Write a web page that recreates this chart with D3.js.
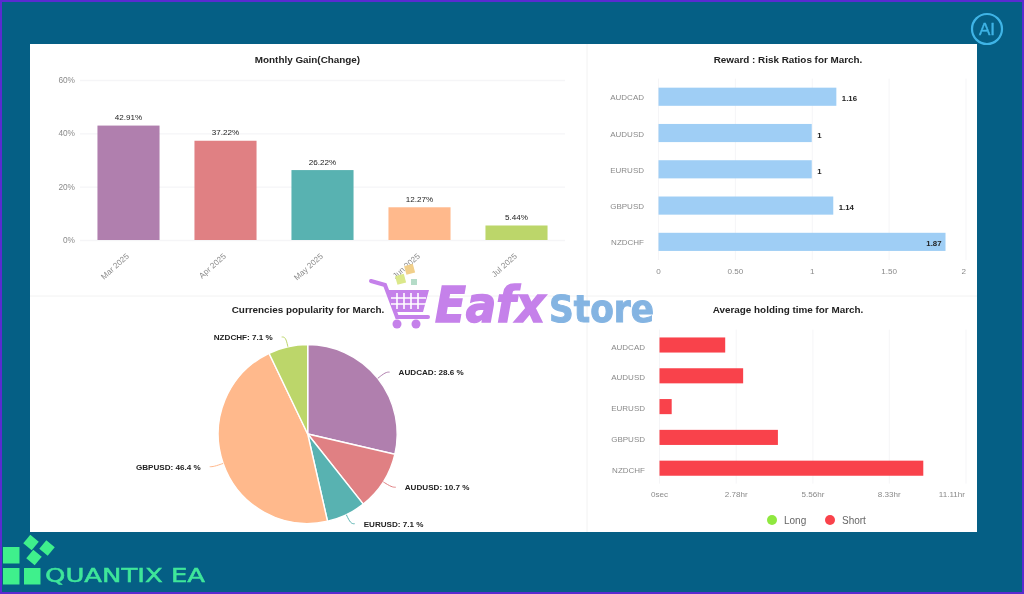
<!DOCTYPE html>
<html><head><meta charset="utf-8">
<script src="https://cdn.jsdelivr.net/npm/d3@7"></script>
<style>
html,body{margin:0;padding:0;background:#055f85;overflow:hidden}
svg{display:block;filter:blur(0.35px)}
text{font-family:"Liberation Sans",Arial,sans-serif}
</style></head><body><svg id="c" width="1024" height="594"></svg>
<script>
const months = ["Mar 2025","Apr 2025","May 2025","Jun 2025","Jul 2025"];
const gains = [42.91,37.22,26.22,12.27,5.44];
const gainTicks = [0,20,40,60];
const paletteColors = ["#b07fae","#e08083","#58b2b1","#ffb98c","#bcd66a"];
const pairs = ["AUDCAD","AUDUSD","EURUSD","GBPUSD","NZDCHF"];
const ratios = [1.16,1,1,1.14,1.87];
const ratioTicks = [0,0.5,1,1.5,2];
const ratioTickLabels = ["0","0.50","1","1.50","2"];
const popularity = [28.6,10.7,7.1,46.4,7.1];
const holdShortHours = [2.4,3.05,0.46,4.31,9.58];
const holdTicks = [0,2.78,5.56,8.33,11.11];
const holdTickLabels = ["0sec","2.78hr","5.56hr","8.33hr","11.11hr"];
const legendNames = ["Long","Short"];
const legendColors = ["#8fe83f","#f9424b"];

const svg = d3.select("#c");
const GRID="#f5f5f7", TICK="#8a8a8a", DARK="#222222";

// page frame
svg.append("rect").attr("width",1024).attr("height",594).attr("fill","#055f85");
svg.append("rect").attr("x",1).attr("y",1).attr("width",1022).attr("height",592).attr("fill","none").attr("stroke","#5a2bd0").attr("stroke-width",2);
svg.append("rect").attr("x",30).attr("y",44).attr("width",947).attr("height",488).attr("fill","#fff");
svg.append("line").attr("x1",587).attr("x2",587).attr("y1",44).attr("y2",532).attr("stroke","#f2f2f2");
svg.append("line").attr("x1",30).attr("x2",977).attr("y1",296).attr("y2",296).attr("stroke","#f2f2f2");

function title(t,x,y){svg.append("text").attr("x",x).attr("y",y).attr("text-anchor","middle")
  .attr("font-size",9.9).attr("font-weight","bold").attr("fill",DARK).text(t);}
title("Monthly Gain(Change)",307.5,63);
title("Reward : Risk Ratios for March.",788,63);
title("Currencies popularity for March.",308,313);
title("Average holding time for March.",788,313);

function styleAxis(g,size){
  g.select(".domain").remove();
  g.selectAll(".tick text").attr("font-size",size).attr("fill",TICK).style("font-family",'"Liberation Sans",Arial,sans-serif');
}

// Monthly gain
{
  const x=d3.scaleBand().domain(months).range([80,565]).paddingInner(.36).paddingOuter(.18);
  const y=d3.scaleLinear().domain([0,60]).range([240,80]);
  const ax=svg.append("g").attr("transform","translate(80,0)")
    .call(d3.axisLeft(y).tickValues(gainTicks).tickFormat(d=>d+"%").tickSize(-485).tickPadding(5));
  styleAxis(ax,8.3); ax.selectAll(".tick line").attr("stroke",GRID).attr("stroke-width",1.3);
  const bx=svg.append("g").attr("transform","translate(0,247)")
    .call(d3.axisBottom(x).tickSize(0).tickPadding(0));
  styleAxis(bx,8.1);
  bx.selectAll(".tick text").attr("text-anchor","end").attr("dy",0).attr("y",0)
    .attr("transform","translate(1,10) rotate(-42)");
  svg.selectAll(".gbar").data(gains).join("rect").attr("x",(d,i)=>x(months[i])).attr("y",d=>y(d))
    .attr("width",x.bandwidth()).attr("height",d=>y(0)-y(d)).attr("fill",(d,i)=>paletteColors[i]);
  svg.selectAll(".glab").data(gains).join("text").attr("x",(d,i)=>x(months[i])+x.bandwidth()/2).attr("y",d=>y(d)-5.5)
    .attr("text-anchor","middle").attr("font-size",8.1).attr("fill",DARK).text(d=>d+"%");
}

function hChart(cfg){
  const x=d3.scaleLinear().domain(cfg.domain).range([cfg.x0,cfg.x1]);
  const y=d3.scaleBand().domain(pairs).range(cfg.yr).paddingInner(cfg.pad).paddingOuter(cfg.pad/2);
  const ax=svg.append("g").attr("transform",`translate(0,${cfg.yr[1]})`)
    .call(d3.axisBottom(x).tickValues(cfg.ticks).tickFormat((d,i)=>cfg.labels[i]).tickSize(-(cfg.yr[1]-cfg.yr[0])).tickPadding(8));
  styleAxis(ax,8.1); ax.selectAll(".tick line").attr("stroke",GRID);
  ax.selectAll(".tick:last-of-type text").attr("text-anchor","end").attr("dx",cfg.lastDx);
  const ay=svg.append("g").attr("transform",`translate(${cfg.x0-6},0)`)
    .call(d3.axisLeft(y).tickSize(0).tickPadding(8));
  styleAxis(ay,8);
  ay.selectAll(".tick text").attr("y",cfg.labelDy);
  svg.selectAll("."+cfg.cls).data(cfg.values).join("rect").attr("class",cfg.cls)
    .attr("x",x(0)+.5).attr("y",(d,i)=>y(pairs[i])).attr("width",d=>x(d)-x(0)-.5)
    .attr("height",y.bandwidth()).attr("fill",cfg.color);
  return {x,y};
}

// Reward:risk
{
  const {x,y}=hChart({cls:"rr",values:ratios,domain:[0,2],x0:658,x1:965.5,yr:[78.6,260],pad:.5,
    ticks:ratioTicks,labels:ratioTickLabels,color:"#9fcef5",lastDx:0,labelDy:1});
  svg.selectAll(".rl").data(ratios).join("text").attr("class","rl")
    .attr("x",d=>d>1.5?x(d)-4:x(d)+5.5).attr("y",(d,i)=>y(pairs[i])+y.bandwidth()/2+4.5)
    .attr("text-anchor",d=>d>1.5?"end":"start").attr("font-size",7.8).attr("font-weight","bold").attr("fill",DARK).text(d=>d);
}

// Holding time
{
  hChart({cls:"ht",values:holdShortHours,domain:[0,11.11],x0:659,x1:965.5,yr:[329.6,483.6],pad:.51,
    ticks:holdTicks,labels:holdTickLabels,color:legendColors[1],lastDx:-1,labelDy:2});
  const lx=[772,830];
  svg.selectAll(".lg").data(legendNames).join("circle").attr("class","lg").attr("cx",(d,i)=>lx[i]).attr("cy",520).attr("r",5).attr("fill",(d,i)=>legendColors[i]);
  svg.selectAll(".lt").data(legendNames).join("text").attr("class","lt").attr("x",(d,i)=>lx[i]+12).attr("y",523.5).attr("font-size",10).attr("fill","#666").text(d=>d);
}

// Pie
{
  const cx=307.7, cy=434, R=89.5;
  const arcs=d3.pie().sort(null)(popularity);
  const arc=d3.arc().innerRadius(0).outerRadius(R);
  const g=svg.append("g").attr("transform",`translate(${cx},${cy})`);
  g.selectAll("path.s").data(arcs).join("path").attr("class","s").attr("d",arc)
    .attr("fill",(d,i)=>paletteColors[i]).attr("stroke","#fff").attr("stroke-width",1.4);
  const rim=d3.arc().innerRadius(R).outerRadius(R), out=d3.arc().innerRadius(R+10).outerRadius(R+10);
  const curve=d3.line().curve(d3.curveBasis);
  arcs.forEach((a,i)=>{
    const p0=rim.centroid(a), p1=out.centroid(a), right=p0[0]>0, s=right?1:-1;
    g.append("path").attr("fill","none").attr("stroke",paletteColors[i]).attr("stroke-width",1)
      .attr("d",curve([p0,p1,[p1[0]+s*4,p1[1]]]));
    g.append("text").attr("x",p1[0]+s*13).attr("y",p1[1]+3).attr("text-anchor",right?"start":"end")
      .attr("font-size",8.1).attr("font-weight","bold").attr("fill",DARK).text(`${pairs[i]}: ${popularity[i]} %`);
  });
}

// Eafx Store watermark
{
  const w=svg.append("g");
  const P="#c581ea";
  w.append("path").attr("d","M371 281 L385 285 L397 317 L428 317").attr("fill","none").attr("stroke",P).attr("stroke-width",4).attr("stroke-linecap","round");
  w.append("path").attr("d","M388 290 L429 290 L423 312 L396 312 Z").attr("fill",P);
  const lines=w.append("g").attr("stroke","#fff").attr("stroke-width",1.6);
  [397,404,411,418].forEach(x=>lines.append("line").attr("x1",x).attr("x2",x).attr("y1",293).attr("y2",309));
  [298,304].forEach(y=>lines.append("line").attr("x1",391).attr("x2",426).attr("y1",y).attr("y2",y));
  [397,416].forEach(x=>w.append("circle").attr("cx",x).attr("cy",324).attr("r",4.5).attr("fill",P));
  w.append("rect").attr("x",396).attr("y",275).attr("width",9).attr("height",9).attr("fill","#dbe88a").attr("transform","rotate(-15 400 279)");
  w.append("rect").attr("x",405).attr("y",265).attr("width",9).attr("height",9).attr("fill","#f1cf8a").attr("transform","rotate(-15 409 269)");
  w.append("rect").attr("x",411).attr("y",279).attr("width",6).attr("height",6).attr("fill","#b5dcc8");
  w.append("text").attr("x",435).attr("y",322).attr("textLength",110).attr("lengthAdjust","spacingAndGlyphs")
    .attr("font-size",50).attr("font-weight","bold").attr("font-style","italic").attr("fill",P).attr("stroke",P).attr("stroke-width",1.6).style("font-family","'DejaVu Sans'").text("Eafx");
  w.append("text").attr("x",549).attr("y",322).attr("textLength",105).attr("lengthAdjust","spacingAndGlyphs")
    .attr("font-size",38).attr("font-weight","bold").attr("fill","#84b4e2").attr("stroke","#84b4e2").attr("stroke-width",1).style("font-family","'DejaVu Sans'").text("Store");
}

// AI badge
svg.append("circle").attr("cx",987).attr("cy",29).attr("r",15).attr("fill","none").attr("stroke","#3fb4e6").attr("stroke-width",2.2);
svg.append("text").attr("x",987).attr("y",35).attr("text-anchor","middle").attr("font-size",17).attr("fill","#3fb4e6").attr("stroke","#3fb4e6").attr("stroke-width",.4).text("AI");

// Quantix logo
{
  const G="#3ff08c";
  [[3,547],[3,568],[24,568]].forEach(p=>svg.append("rect").attr("x",p[0]).attr("y",p[1]).attr("width",16.5).attr("height",16.5).attr("fill",G));
  [[31,542.5],[47,548],[34,557.5]].forEach(p=>svg.append("rect").attr("x",p[0]-5.5).attr("y",p[1]-5.5).attr("width",11).attr("height",11).attr("fill",G).attr("transform",`rotate(40 ${p[0]} ${p[1]})`));
  svg.append("text").attr("x",45).attr("y",582).attr("textLength",160).attr("lengthAdjust","spacingAndGlyphs")
    .attr("font-size",20).attr("fill","#3fe69a").attr("stroke","#3fe69a").attr("stroke-width",.5).style("font-family","'DejaVu Sans'").text("QUANTIX EA");
}
</script></body></html>
